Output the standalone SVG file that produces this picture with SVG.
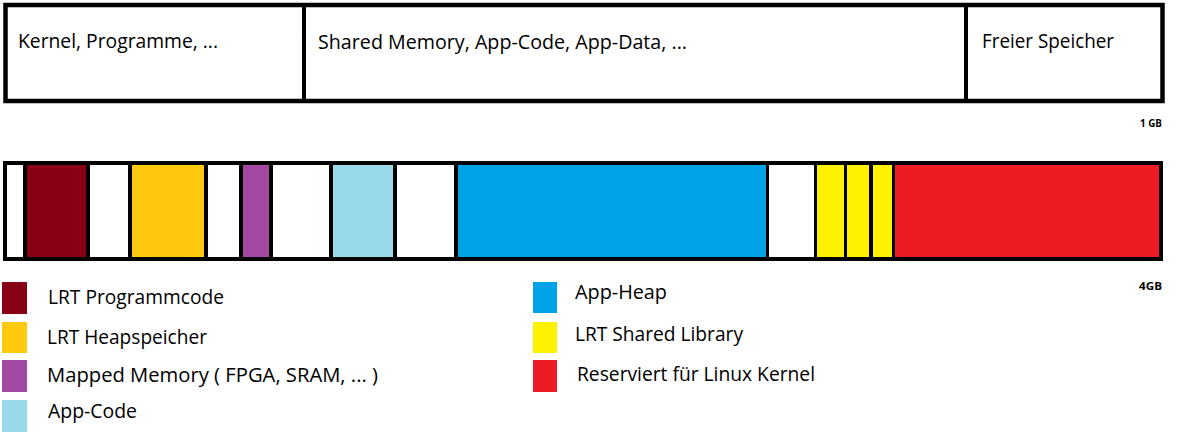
<svg xmlns="http://www.w3.org/2000/svg" width="1179" height="445" viewBox="0 0 1179 445">
<style>
.t{font-family:"Open Sans","Noto Sans",sans-serif;font-size:20px;fill:#000;}
.s{font-family:"Open Sans","Noto Sans",sans-serif;font-size:10.5px;font-weight:bold;fill:#000;}
.box{fill:#fff;stroke:#000;stroke-width:4.5;}
.div{stroke:#000;stroke-width:4;}
</style>
<rect width="1179" height="445" fill="#fff"/>
<g id="top">
<rect class="box" x="5.5" y="5" width="1157" height="96"/>
<line class="div" x1="304" y1="5" x2="304" y2="101"/>
<line class="div" x1="966" y1="5" x2="966" y2="101"/>
<text class="t" x="18" y="48" textLength="200" lengthAdjust="spacingAndGlyphs">Kernel, Programme, ...</text>
<text class="t" x="318" y="49" textLength="369" lengthAdjust="spacingAndGlyphs">Shared Memory, App-Code, App-Data, ...</text>
<text class="t" x="982" y="48" textLength="132" lengthAdjust="spacingAndGlyphs">Freier Speicher</text>
<text class="s" x="1140" y="127" textLength="22" lengthAdjust="spacingAndGlyphs">1 GB</text>
</g>
<g id="bar">
<rect x="3" y="161" width="1160" height="100" fill="#000"/>
<rect x="7" y="165" width="16" height="92" fill="#fff"/>
<rect x="27" y="165" width="59" height="92" fill="#880015"/>
<rect x="90" y="165" width="38" height="92" fill="#fff"/>
<rect x="132" y="165" width="72" height="92" fill="#FFC90E"/>
<rect x="208" y="165" width="31" height="92" fill="#fff"/>
<rect x="243" y="165" width="26" height="92" fill="#A349A4"/>
<rect x="273" y="165" width="56" height="92" fill="#fff"/>
<rect x="333" y="165" width="60" height="92" fill="#99D9EA"/>
<rect x="397" y="165" width="57" height="92" fill="#fff"/>
<rect x="458" y="165" width="308" height="92" fill="#00A2E8"/>
<rect x="769" y="165" width="45" height="92" fill="#fff"/>
<rect x="817" y="165" width="27" height="92" fill="#FFF200"/>
<rect x="847" y="165" width="22" height="92" fill="#FFF200"/>
<rect x="873" y="165" width="19" height="92" fill="#FFF200"/>
<rect x="895" y="165" width="264" height="92" fill="#ED1C24"/>
<text class="s" x="1139" y="290" textLength="23" lengthAdjust="spacingAndGlyphs">4GB</text>
</g>
<g id="legend-lrt-programmcode">
<rect x="2" y="282" width="25" height="32" fill="#880015"/>
<text class="t" x="48" y="304" textLength="176" lengthAdjust="spacingAndGlyphs">LRT Programmcode</text>
</g>
<g id="legend-lrt-heap">
<rect x="2" y="322" width="25" height="31" fill="#FFC90E"/>
<text class="t" x="47" y="344" textLength="160" lengthAdjust="spacingAndGlyphs">LRT Heapspeicher</text>
</g>
<g id="legend-mapped">
<rect x="2" y="360" width="25" height="32" fill="#A349A4"/>
<text class="t" x="47" y="382" textLength="331" lengthAdjust="spacingAndGlyphs">Mapped Memory ( FPGA, SRAM, ... )</text>
</g>
<g id="legend-app-code">
<rect x="2" y="400" width="25" height="32" fill="#99D9EA"/>
<text class="t" x="48" y="418" textLength="89" lengthAdjust="spacingAndGlyphs">App-Code</text>
</g>
<g id="legend-app-heap">
<rect x="533" y="282" width="24" height="31" fill="#00A2E8"/>
<text class="t" x="575" y="299" textLength="92" lengthAdjust="spacingAndGlyphs">App-Heap</text>
</g>
<g id="legend-shared-lib">
<rect x="533" y="322" width="24" height="31" fill="#FFF200"/>
<text class="t" x="575" y="341" textLength="168" lengthAdjust="spacingAndGlyphs">LRT Shared Library</text>
</g>
<g id="legend-linux">
<rect x="533" y="360" width="24" height="32" fill="#ED1C24"/>
<text class="t" x="577" y="381" textLength="238" lengthAdjust="spacingAndGlyphs">Reserviert für Linux Kernel</text>
</g>
<g id="connectors"></g>
</svg>
